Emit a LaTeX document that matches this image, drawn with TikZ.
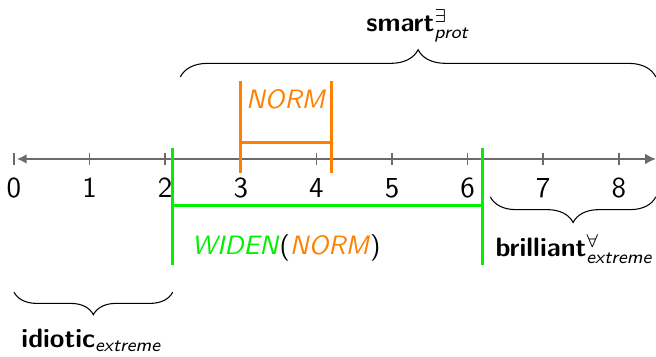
\documentclass[tikz,border=0pt]{standalone}
\usepackage{amsmath}
\usepackage{fontspec}
\usetikzlibrary{arrows.meta,decorations.pathreplacing}
\definecolor{normc}{RGB}{255,128,0}
\definecolor{widenc}{RGB}{0,240,0}
\tikzset{
  every node/.style={font=\sffamily\fontsize{10}{12}\selectfont, inner sep=0pt},
  axisline/.style={draw=black!58, semithick},
  tickline/.style={draw=black!58, semithick},
  normline/.style={draw=normc, very thick},
  widenline/.style={draw=widenc, very thick},
  bracedeco/.style={draw=black, thin, decorate, decoration={brace, amplitude=#1}},
  bracedecomirror/.style={draw=black, thin, decorate, decoration={brace, mirror, amplitude=#1}},
}
\begin{document}
\begin{tikzpicture}
\useasboundingbox (-0.185,-2.619) rectangle (8.492,2.103);
% axis
\coordinate (axL) at (0.04,0);
\coordinate (axR) at (8.49,0);
\draw[axisline, {Latex[length=3.6pt,width=3.6pt]}-{Latex[length=4pt,width=4pt]}] (axL) -- (axR);
\foreach \i in {0,...,8} {
  \coordinate (tt\i) at (\i,0.085);
  \coordinate (tb\i) at (\i,-0.085);
  \draw[tickline] (tt\i) -- (tb\i);
  \node (lab\i) at (\i,-0.384) {\fontsize{10.9}{12}\selectfont\i};
}
% NORM interval
\coordinate (n1t) at (3.0,1.03);
\coordinate (n1b) at (3.0,-0.185);
\coordinate (n2t) at (4.2,1.03);
\coordinate (n2b) at (4.2,-0.185);
\coordinate (n1m) at (3.0,0.22);
\coordinate (n2m) at (4.2,0.22);
\draw[normline] (n1t) -- (n1b);
\draw[normline] (n2t) -- (n2b);
\draw[normline] (n1m) -- (n2m);
\node[text=normc] (normlab) at (3.6,0.79) {\textit{NORM}};
% WIDEN interval
\coordinate (w1t) at (2.1,0.14);
\coordinate (w1b) at (2.1,-1.40);
\coordinate (w2t) at (6.2,0.14);
\coordinate (w2b) at (6.2,-1.40);
\coordinate (w1m) at (2.1,-0.61);
\coordinate (w2m) at (6.2,-0.61);
\draw[widenline] (w1t) -- (w1b);
\draw[widenline] (w2t) -- (w2b);
\draw[widenline] (w1m) -- (w2m);
\node (widenlab) at (3.6,-1.17) {\textcolor{widenc}{\textit{WIDEN}}(\textcolor{normc}{\textit{NORM}})};
% braces
\coordinate (sL) at (2.2,1.085);
\coordinate (sR) at (8.49,1.085);
\draw[bracedeco=0.36cm] (sL) -- (sR);
\node[anchor=base] (smart) at (5.34,1.68) {\textbf{smart}$^{\exists}_{\textit{prot}}$};
\coordinate (bL) at (6.3,-0.5);
\coordinate (bR) at (8.49,-0.5);
\draw[bracedecomirror=0.34cm] (bL) -- (bR);
\node[anchor=base] (brilliant) at (7.41,-1.296) {\textbf{brilliant}$^{\forall}_{\textit{extreme}}$};
\coordinate (iL) at (0,-1.76);
\coordinate (iR) at (2.1,-1.76);
\draw[bracedecomirror=0.3cm] (iL) -- (iR);
\node[anchor=base] (idiotic) at (1.025,-2.5) {\textbf{idiotic}$_{\textit{extreme}}$};
\end{tikzpicture}
\end{document}
